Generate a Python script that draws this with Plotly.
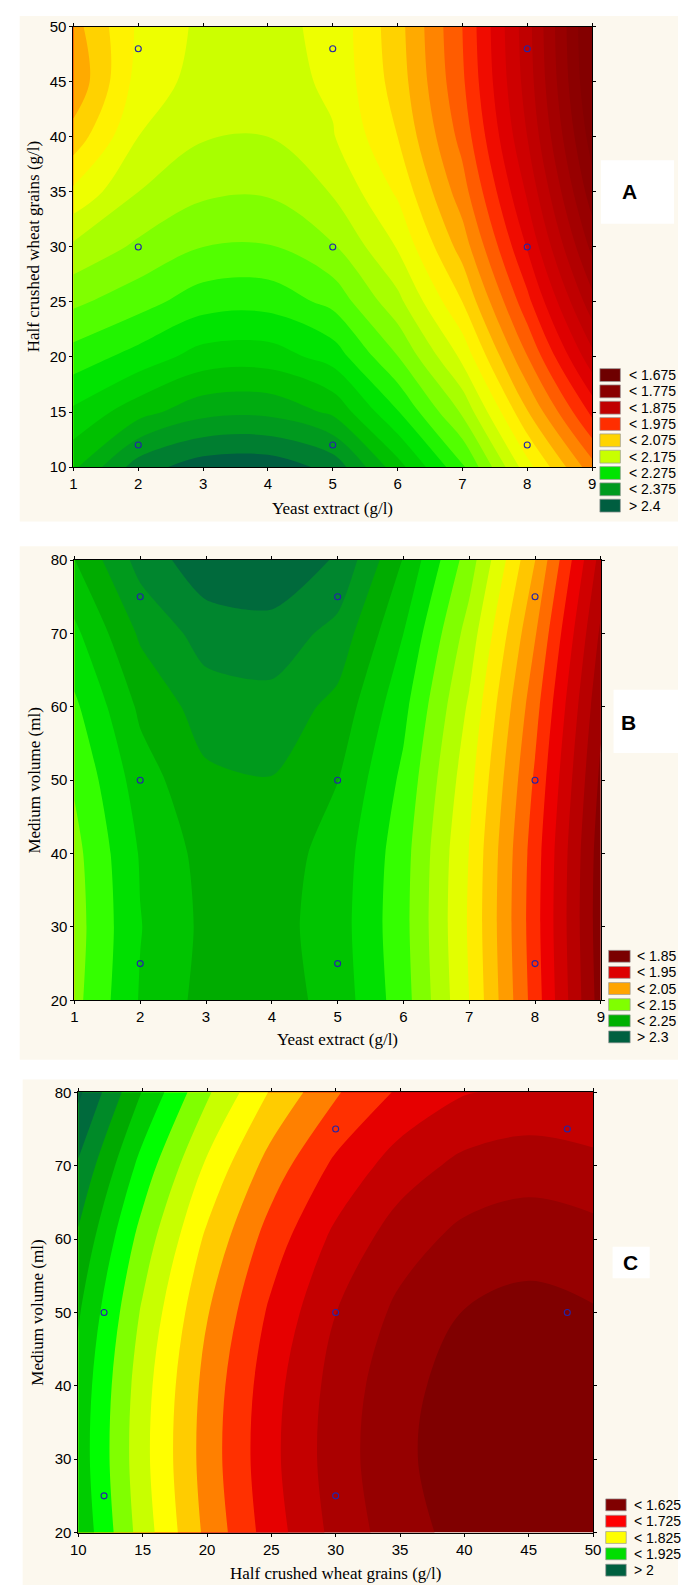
import plotly.graph_objects as go

W, H = 686, 1593

# ---------------- data ----------------
# Panel A : Yeast extract (x) vs Half crushed wheat grains (y)
a_yeast = [1, 2, 3, 4, 5, 6, 7, 8, 9]
a_wheat = [10, 15, 20, 25, 30, 35, 40, 45, 50]
a_z = [
    [2.320, 2.388, 2.414, 2.416, 2.392, 2.310, 2.230, 2.110, 2.010],
    [2.280, 2.315, 2.342, 2.344, 2.320, 2.252, 2.171, 2.052, 1.943],
    [2.236, 2.260, 2.286, 2.288, 2.265, 2.201, 2.119, 2.001, 1.883],
    [2.195, 2.215, 2.239, 2.241, 2.218, 2.158, 2.075, 1.958, 1.834],
    [2.155, 2.180, 2.200, 2.202, 2.178, 2.123, 2.039, 1.923, 1.793],
    [2.105, 2.150, 2.170, 2.172, 2.148, 2.096, 2.011, 1.896, 1.761],
    [2.060, 2.125, 2.148, 2.150, 2.127, 2.075, 1.991, 1.875, 1.738],
    [2.030, 2.110, 2.135, 2.137, 2.120, 2.064, 1.979, 1.864, 1.724],
    [2.040, 2.104, 2.131, 2.133, 2.118, 2.060, 1.975, 1.860, 1.720],
]
a_pts_x = [2, 2, 2, 5, 5, 5, 8, 8, 8]
a_pts_y = [12, 30, 48, 12, 30, 48, 12, 30, 48]
a_legend = ["< 1.675", "< 1.775", "< 1.875", "< 1.975", "< 2.075",
            "< 2.175", "< 2.275", "< 2.375", "> 2.4"]
a_xticks = [1, 2, 3, 4, 5, 6, 7, 8, 9]
a_yticks = [10, 15, 20, 25, 30, 35, 40, 45, 50]

# Panel B : Yeast extract (x) vs Medium volume (y)
b_yeast = [1, 2, 3, 4, 5, 6, 7, 8, 9]
b_volume = [20, 30, 40, 50, 60, 70, 80]
b_z = [
    [2.142, 2.202, 2.234, 2.238, 2.2145, 2.161, 2.075, 1.963, 1.838],
    [2.139, 2.199, 2.231, 2.235, 2.2115, 2.158, 2.072, 1.960, 1.835],
    [2.142, 2.202, 2.234, 2.238, 2.2145, 2.160, 2.074, 1.962, 1.8365],
    [2.153, 2.213, 2.245, 2.249, 2.2255, 2.169, 2.083, 1.971, 1.8445],
    [2.170, 2.230, 2.262, 2.266, 2.2425, 2.182, 2.096, 1.984, 1.8555],
    [2.194, 2.254, 2.286, 2.290, 2.2665, 2.200, 2.114, 2.002, 1.8705],
    [2.2245, 2.2845, 2.3165, 2.3205, 2.297, 2.2235, 2.1375, 2.0255, 1.8905],
]
b_pts_x = [2, 2, 2, 5, 5, 5, 8, 8, 8]
b_pts_y = [25, 50, 75, 25, 50, 75, 25, 50, 75]
b_legend = ["< 1.85", "< 1.95", "< 2.05", "< 2.15", "< 2.25", "> 2.3"]
b_xticks = [1, 2, 3, 4, 5, 6, 7, 8, 9]
b_yticks = [20, 30, 40, 50, 60, 70, 80]

# Panel C : Half crushed wheat grains (x) vs Medium volume (y)
c_wheat = [10, 15, 20, 25, 30, 35, 40, 45, 50]
c_volume = [20, 30, 40, 50, 60, 70, 80]
c_z = [
    [1.9200, 1.8380, 1.7685, 1.7116, 1.6672, 1.6354, 1.6160, 1.6091, 1.6147],
    [1.9147, 1.8329, 1.7635, 1.7066, 1.6622, 1.6304, 1.6110, 1.6041, 1.6097],
    [1.9174, 1.8356, 1.7662, 1.7093, 1.6649, 1.6331, 1.6137, 1.6068, 1.6124],
    [1.9278, 1.8460, 1.7766, 1.7197, 1.6753, 1.6435, 1.6241, 1.6172, 1.6228],
    [1.9459, 1.8641, 1.7947, 1.7378, 1.6934, 1.6616, 1.6422, 1.6353, 1.6409],
    [1.9717, 1.8899, 1.8205, 1.7636, 1.7192, 1.6874, 1.6680, 1.6611, 1.6667],
    [2.0052, 1.9234, 1.8540, 1.7971, 1.7527, 1.7209, 1.7015, 1.6946, 1.7002],
]
c_pts_x = [30, 48, 12, 30, 48, 12, 30]
c_pts_y = [75, 75, 50, 50, 50, 25, 25]
c_legend = ["< 1.625", "< 1.725", "< 1.825", "< 1.925", "> 2"]
c_xticks = [10, 15, 20, 25, 30, 35, 40, 45, 50]
c_yticks = [20, 30, 40, 50, 60, 70, 80]

# ---------------- styles ----------------
a_band_colors = ["#6E0000", "#740000", "#7C0000", "#840000", "#8C0000", "#980000",
                 "#A40000", "#B20000", "#C00000", "#CE0000", "#DE0000", "#F00C00",
                 "#FF2E00", "#FF5C00", "#FF8400", "#FFAA00", "#FFD200", "#FFF200",
                 "#EEFF00", "#CCFF00", "#A8FF00", "#80FF00", "#52FF00", "#22F400",
                 "#00E400", "#00D200", "#00C000", "#00AC10", "#009A1E", "#007E30",
                 "#005E40"]
b_band_colors = ["#860000", "#A00000", "#B80000", "#D00000", "#EC0000", "#FF2C00",
                 "#FF6C00", "#FF9C00", "#FFC600", "#FFEC00", "#E2FF00", "#B2FF00",
                 "#80FF00", "#34FF00", "#00E000", "#00C400", "#00AC00", "#009A1C",
                 "#00862E", "#006A3C"]
c_band_colors = ["#800000", "#960000", "#AA0000", "#C40000", "#E60000", "#FF3000",
                 "#FF8000", "#FFCC00", "#FFFF00", "#C8FF00", "#80FF00", "#00FF00",
                 "#00CC00", "#00AA00", "#008A28", "#006A3C", "#005E40"]

a_leg_colors = ["#6E0000", "#8A0000", "#C00000", "#FF2E00", "#FFD400",
                "#C8FF00", "#00E400", "#009A1E", "#005E40"]
b_leg_colors = ["#7A0000", "#DD0000", "#FFA500", "#80FF00", "#00B000", "#006040"]
c_leg_colors = ["#800000", "#FF0000", "#FFFF00", "#00DD00", "#006040"]

CREAM = "#FCF8EE"
SANS = "Liberation Sans, Arial, sans-serif"
SERIF = "Liberation Serif, Times New Roman, serif"


def X(p):
    return p / W


def Y(p):
    return 1 - p / H


def band_scale(colors):
    n = len(colors) - 1
    return [[j / n, c] for j, c in enumerate(colors)]


panels = [
    dict(x=a_yeast, y=a_wheat, z=a_z, px=a_pts_x, py=a_pts_y,
         start=1.675, end=2.4, colors=a_band_colors, smooth=1.0,
         box=(67, 598, 18, 463), xr=[1, 9], yr=[10, 50],
         xt=a_xticks, yt=a_yticks,
         xtitle="Yeast extract (g/l)", ytitle="Half crushed wheat grains (g/l)",
         xtitle_y=505, ytitle_x=27,
         cream=(12, 686, 7, 518), label="A", lbox=(607, 682, 153, 217), lpos=(636, 184),
         legend=a_legend, legc=a_leg_colors, leg_x=(606, 627), leg_y0=370, leg_dy=16.5,
         leg_h=13, leg_tx=634),
    dict(x=b_yeast, y=b_volume, z=b_z, px=b_pts_x, py=b_pts_y,
         start=1.85, end=2.3, colors=b_band_colors, smooth=0.7,
         box=(68, 607, 557, 1002), xr=[1, 9], yr=[20, 80],
         xt=b_xticks, yt=b_yticks,
         xtitle="Yeast extract (g/l)", ytitle="Medium volume (ml)",
         xtitle_y=1042, ytitle_x=27,
         cream=(12, 686, 543, 1062), label="B", lbox=(620, 686, 688, 752), lpos=(635, 721),
         legend=b_legend, legc=b_leg_colors, leg_x=(615, 637), leg_y0=957.5, leg_dy=16.3,
         leg_h=12, leg_tx=642),
    dict(x=c_wheat, y=c_volume, z=c_z, px=c_pts_x, py=c_pts_y,
         start=1.625, end=2.0, colors=c_band_colors, smooth=1.0,
         box=(72, 599, 1095, 1540), xr=[10, 50], yr=[20, 80],
         xt=c_xticks, yt=c_yticks,
         xtitle="Half crushed wheat grains (g/l)", ytitle="Medium volume (ml)",
         xtitle_y=1581, ytitle_x=30,
         cream=(15, 686, 1082, 1593), label="C", lbox=(619, 657, 1251, 1283), lpos=(637, 1267),
         legend=c_legend, legc=c_leg_colors, leg_x=(612, 633), leg_y0=1512, leg_dy=16.5,
         leg_h=12, leg_tx=639),
]

fig = go.Figure()
shapes = []
annotations = []
layout_axes = {}

for i, p in enumerate(panels):
    k = "" if i == 0 else str(i + 1)
    xa, ya = "x" + k, "y" + k
    fig.add_trace(go.Contour(
        x=p["x"], y=p["y"], z=p["z"], xaxis=xa, yaxis=ya,
        autocontour=False,
        contours=dict(start=p["start"], end=p["end"], size=0.025, coloring="fill",
                      showlines=False),
        colorscale=band_scale(p["colors"]), showscale=False,
        line=dict(width=0, smoothing=p["smooth"]),
        hoverinfo="skip",
    ))
    fig.add_trace(go.Scatter(
        x=p["px"], y=p["py"], xaxis=xa, yaxis=ya, mode="markers",
        marker=dict(symbol="circle-open", size=6, color="#2424A8", line=dict(width=1.1)),
        hoverinfo="skip", showlegend=False,
    ))
    x0, x1, y0, y1 = p["box"]
    axis_common = dict(showline=True, linecolor="#000", linewidth=1, mirror="ticks",
                       ticks="outside", ticklen=3, tickcolor="#000", showgrid=False,
                       zeroline=False, tickfont=dict(family=SANS, size=15, color="#000"))
    layout_axes["xaxis" + k] = dict(axis_common, domain=[X(x0), X(x1)], range=p["xr"],
                                    anchor=ya, tickvals=p["xt"])
    layout_axes["yaxis" + k] = dict(axis_common, domain=[Y(y1), Y(y0)], range=p["yr"],
                                    anchor=xa, tickvals=p["yt"])
    # background panel
    cx0, cx1, cy0, cy1 = p["cream"]
    shapes.append(dict(type="rect", xref="paper", yref="paper", layer="below",
                       x0=X(cx0), x1=X(cx1), y0=Y(cy1), y1=Y(cy0),
                       fillcolor=CREAM, line=dict(width=0)))
    lx0, lx1, ly0, ly1 = p["lbox"]
    shapes.append(dict(type="rect", xref="paper", yref="paper", layer="below",
                       x0=X(lx0), x1=X(lx1), y0=Y(ly1), y1=Y(ly0),
                       fillcolor="#FFFFFF", line=dict(width=0)))
    annotations.append(dict(text="<b>%s</b>" % p["label"], xref="paper", yref="paper",
                            x=X(p["lpos"][0]), y=Y(p["lpos"][1]), showarrow=False,
                            xanchor="center", yanchor="middle",
                            font=dict(family=SANS, size=21, color="#000")))
    # axis titles
    annotations.append(dict(text=p["xtitle"], xref="paper", yref="paper",
                            x=X((x0 + x1) / 2), y=Y(p["xtitle_y"]), showarrow=False,
                            xanchor="center", yanchor="middle",
                            font=dict(family=SERIF, size=17, color="#000")))
    annotations.append(dict(text=p["ytitle"], xref="paper", yref="paper",
                            x=X(p["ytitle_x"]), y=Y((y0 + y1) / 2), showarrow=False,
                            xanchor="center", yanchor="middle", textangle=-90,
                            font=dict(family=SERIF, size=17, color="#000")))
    # legend
    for j, (lab, col) in enumerate(zip(p["legend"], p["legc"])):
        cy = p["leg_y0"] + j * p["leg_dy"]
        h = p["leg_h"]
        shapes.append(dict(type="rect", xref="paper", yref="paper",
                           x0=X(p["leg_x"][0]), x1=X(p["leg_x"][1]),
                           y0=Y(cy + h / 2), y1=Y(cy - h / 2),
                           fillcolor=col, line=dict(color="#9A9A9A", width=0.7)))
        annotations.append(dict(text=lab, xref="paper", yref="paper",
                                x=X(p["leg_tx"]), y=Y(cy), showarrow=False,
                                xanchor="left", yanchor="middle",
                                font=dict(family=SANS, size=14, color="#000")))

fig.update_layout(
    width=W, height=H, autosize=False,
    margin=dict(l=0, r=0, t=0, b=0, pad=0),
    paper_bgcolor="#FFFFFF", plot_bgcolor="rgba(0,0,0,0)",
    showlegend=False, shapes=shapes, annotations=annotations,
    **layout_axes,
)

fig.write_html("out.html", config={"displayModeBar": False},
               post_script="document.body.style.margin='0';")
